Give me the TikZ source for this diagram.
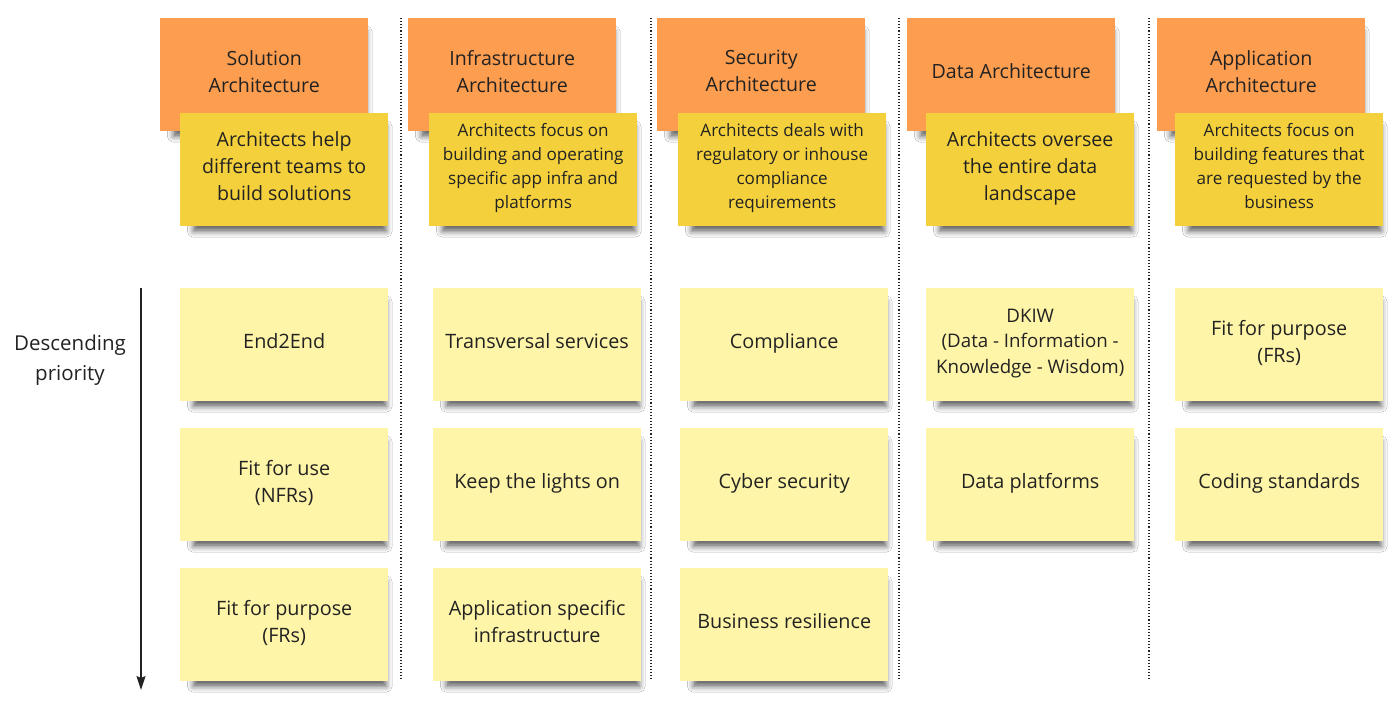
\documentclass[tikz,border=0pt]{standalone}
\usepackage{fontspec}
\setmainfont{Open Sans}
\usetikzlibrary{shadows.blur,arrows.meta}
\definecolor{orangenote}{HTML}{FD9D4F}
\definecolor{descnote}{HTML}{F4D13C}
\definecolor{prionote}{HTML}{FFF5A8}
\definecolor{inkc}{HTML}{222222}
\begin{document}
\begin{tikzpicture}[x=1pt,y=-1pt,
  note/.style={rectangle, minimum width=208pt, minimum height=113pt, anchor=north west,
    align=center, text=inkc, inner sep=0pt, text depth=7pt,
    blur shadow={shadow xshift=6pt, shadow yshift=-10pt, shadow scale=0.93,
      shadow opacity=60, shadow blur radius=6pt}},
  bigtxt/.style={font=\fontsize{19.6}{27}\selectfont},
  priotxt/.style={font=\fontsize{19.8}{27.5}\selectfont},
  smalltxt/.style={font=\fontsize{17.1}{24}\selectfont},
  dkiwtxt/.style={font=\fontsize{18.7}{25.5}\selectfont},
  head/.style={note, fill=orangenote, bigtxt},
  desc/.style={note, fill=descnote},
  prio/.style={note, fill=prionote, priotxt},
  sep/.style={dotted, line width=1.1pt, draw=inkc},
]
\useasboundingbox[fill=white] (0,0) rectangle (1400,720);

% separators
\foreach \sx in {401,651,899,1149}{
  \draw[sep] (\sx,18) -- (\sx,680);
}

% headers
\node[head] (h1) at (160,18) {Solution\\Architecture};
\node[head] (h2) at (408,18) {Infrastructure\\Architecture};
\node[head] (h3) at (657,18) {Security\\Architecture};
\node[head] (h4) at (907,18) {Data Architecture};
\node[head] (h5) at (1157,18) {Application\\Architecture};

% descriptions
\node[desc, bigtxt] (d1) at (180,113) {Architects help\\different teams to\\build solutions};
\node[desc, smalltxt] (d2) at (429,113) {Architects focus on\\building and operating\\specific app infra and\\platforms};
\node[desc, smalltxt] (d3) at (678,113) {Architects deals with\\regulatory or inhouse\\compliance\\requirements};
\node[desc, bigtxt] (d4) at (926,113) {Architects oversee\\the entire data\\landscape};
\node[desc, smalltxt] (d5) at (1175,113) {Architects focus on\\building features that\\are requested by the\\business};

% priorities
\node[prio] (p11) at (180,288) {End2End};
\node[prio] (p12) at (180,428) {Fit for use\\(NFRs)};
\node[prio] (p13) at (180,568) {Fit for purpose\\(FRs)};

\node[prio] (p21) at (433,288) {Transversal services};
\node[prio] (p22) at (433,428) {Keep the lights on};
\node[prio] (p23) at (433,568) {Application specific\\infrastructure};

\node[prio] (p31) at (680,288) {Compliance};
\node[prio] (p32) at (680,428) {Cyber security};
\node[prio] (p33) at (680,568) {Business resilience};

\node[prio, dkiwtxt] (p41) at (926,288) {DKIW\\(Data - Information -\\Knowledge - Wisdom)};
\node[prio] (p42) at (926,428) {Data platforms};

\node[prio] (p51) at (1175,288) {Fit for purpose\\(FRs)};
\node[prio] (p52) at (1175,428) {Coding standards};

% priority label and arrow
\node[font=\fontsize{20.5}{30}\selectfont, align=center, text=inkc] (lbl) at (70,360) {Descending\\priority};
\coordinate (atop) at (141,288);
\coordinate (abot) at (141,690);
\draw[-{Stealth[length=14pt,width=9pt,inset=2pt]}, line width=1.3pt, draw=inkc] (atop) -- (abot);
\end{tikzpicture}
\end{document}
